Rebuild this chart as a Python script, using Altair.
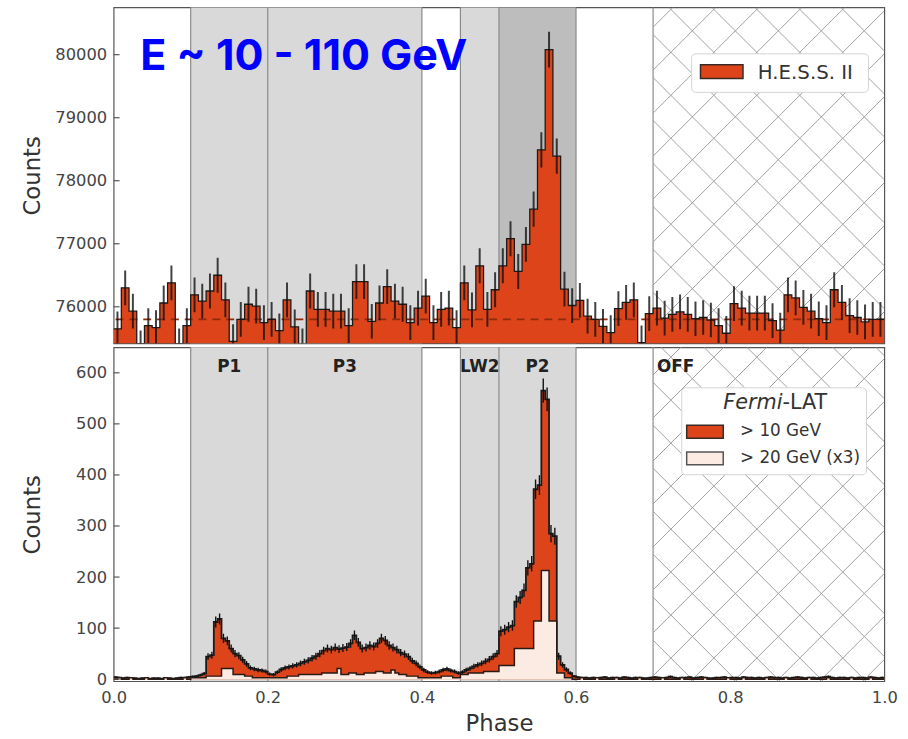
import altair as alt
import numpy as np
import pandas as pd

# ---------------------------------------------------------------------------
# Data
# ---------------------------------------------------------------------------
# H.E.S.S. II phaseogram, 100 bins of width 0.01 in phase
hess_counts = [
    75650, 76300, 75930, 75350, 75700, 75670, 76060, 76380, 75380, 75700,
    76190, 76090, 76250, 76500, 76110, 75450, 75800, 76040, 76010, 75750,
    75800, 75620, 76110, 75680, 75380, 76250, 75960, 75960, 75930, 75930,
    75700, 76400, 76400, 75770, 76060, 76320, 76090, 76040, 75750, 75980,
    76170, 75750, 75960, 75980, 75670, 76380, 75950, 76650, 75960, 76270,
    76650, 77080, 76560, 76990, 77550, 78490, 80080, 78390, 76280, 76020,
    76100, 75850, 75800, 75690, 75590, 75970, 76070, 76110, 75430, 75890,
    75980, 75820, 75880, 75920, 75880, 75810, 75830, 75790, 75700, 75580,
    76050, 75980, 75900, 75900, 75900, 75780, 75630, 76190, 76140, 75990,
    75930, 75810, 75750, 76270, 76070, 75860, 75830, 75760, 75800, 75800,
]
hess_background = 75800

# Fermi-LAT phaseograms, 200 bins of width 0.005 in phase
fermi_10gev = [
    4, 3, 2, 3, 2, 2, 1, 2, 2, 1, 2, 2, 1, 2, 2, 1, 2, 3, 3, 4,
    5, 6, 8, 11, 44, 47, 112, 118, 80, 75, 60, 50, 46, 38, 30, 22, 20, 18, 17, 15,
    10, 9, 14, 19, 22, 24, 26, 28, 31, 34, 37, 41, 45, 50, 56, 60, 58, 62, 59, 61,
    63, 70, 86, 72, 60, 62, 66, 64, 70, 80, 76, 66, 62, 58, 52, 49, 44, 36, 31, 24,
    18, 14, 12, 13, 15, 18, 20, 17, 15, 12, 14, 18, 21, 25, 28, 31, 35, 39, 44, 50,
    94, 97, 102, 105, 152, 160, 174, 218, 226, 372, 380, 565, 548, 285, 280, 45, 28, 19, 12, 6,
    4, 3, 3, 2, 3, 2, 3, 4, 2, 3, 3, 2, 4, 3, 2, 3, 3, 2, 2, 3,
    4, 3, 2, 3, 5, 3, 2, 3, 3, 4, 2, 3, 4, 3, 2, 2, 3, 3, 4, 2,
    3, 3, 2, 4, 3, 3, 2, 3, 2, 3, 4, 3, 3, 2, 3, 2, 3, 4, 3, 2,
    3, 3, 2, 3, 4, 5, 3, 2, 3, 3, 2, 3, 2, 3, 3, 2, 4, 3, 2, 3,
]
fermi_20gev_x3 = [
    0, 3, 0, 0, 3, 0, 0, 0, 3, 0, 0, 0, 0, 3, 0, 0, 0, 0, 3, 0,
    3, 3, 3, 3, 6, 6, 6, 6, 21, 21, 21, 9, 9, 9, 6, 6, 3, 3, 3, 3,
    3, 3, 3, 3, 3, 6, 6, 6, 9, 9, 9, 9, 9, 9, 12, 12, 12, 12, 21, 9,
    9, 12, 12, 9, 9, 12, 12, 12, 15, 15, 12, 12, 18, 12, 9, 9, 6, 6, 6, 3,
    3, 3, 3, 3, 3, 6, 6, 6, 3, 3, 9, 9, 12, 12, 12, 12, 15, 15, 15, 15,
    27, 27, 27, 27, 60, 60, 60, 60, 60, 114, 114, 213, 213, 114, 114, 12, 12, 3, 3, 0,
    0, 3, 0, 0, 0, 3, 0, 0, 0, 0, 3, 0, 0, 0, 0, 0, 3, 0, 0, 0,
    0, 0, 3, 0, 0, 0, 0, 3, 0, 0, 0, 0, 0, 3, 0, 0, 0, 0, 0, 3,
    0, 0, 0, 3, 0, 0, 0, 0, 0, 3, 0, 0, 0, 0, 3, 0, 0, 0, 0, 0,
    3, 0, 0, 0, 0, 3, 0, 0, 0, 0, 0, 3, 0, 0, 0, 0, 3, 0, 0, 0,
]

# Phase regions
shade_lo = [0.10, 0.20, 0.45, 0.50]
shade_hi = [0.20, 0.40, 0.50, 0.60]
shade_tone_top = ["light", "light", "light", "dark"]
region_edges = [0.10, 0.20, 0.40, 0.45, 0.50, 0.60, 0.70]
region_names = ["P1", "P3", "LW2", "P2"]
region_centers = [0.15, 0.30, 0.475, 0.55]
off_lo, off_hi = 0.70, 1.00

hess_ticks = [76000, 77000, 78000, 79000, 80000]
fermi_ticks = [0, 100, 200, 300, 400, 500, 600]
phase_ticks = [0.0, 0.2, 0.4, 0.6, 0.8, 1.0]

# ---------------------------------------------------------------------------
# Style
# ---------------------------------------------------------------------------
W, H_TOP, H_BOT = 780, 340, 338
Y_TOP = [75420, 80750]
Y_BOT = [-4, 650]
RED = "#de4419"
PALE = "#fcebe3"
LIGHT = "#d9d9d9"
DARK = "#bdbdbd"
EDGE = "#8a8a8a"
HATCH = "#a0a0a0"
INK = "#1a1a1a"
FONT = "DejaVu Sans"

xs = alt.Scale(domain=[0, 1], nice=False, zero=False)
ys_top = alt.Scale(domain=Y_TOP, nice=False, zero=False)
ys_bot = alt.Scale(domain=Y_BOT, nice=False, zero=False)

x_axis_bot = alt.Axis(values=phase_ticks, format=".1f", title="Phase", ticks=False,
                      labelFlush=False, labelPadding=9, titlePadding=6,
                      grid=False, domain=False)
y_axis_top = alt.Axis(values=hess_ticks, format="d", title="Counts", ticks=False,
                      labelPadding=7, grid=False, domain=False,
                      titleX=-82, titleBaseline="middle")
y_axis_bot = alt.Axis(values=fermi_ticks, format="d", title="Counts", ticks=False,
                      labelPadding=7, grid=False, domain=False,
                      titleX=-82, titleBaseline="middle")


def X(field, bottom):
    return alt.X(field, type="quantitative", scale=xs,
                 axis=x_axis_bot if bottom else None)


def Y(field, bottom):
    return alt.Y(field, type="quantitative",
                 scale=ys_bot if bottom else ys_top,
                 axis=y_axis_bot if bottom else y_axis_top)


def step_table(values, width):
    edges = [round(i * width, 4) for i in range(len(values) + 1)]
    return pd.DataFrame({"x": edges, "y": list(values) + [values[-1]]})


def hatch_table(y_dom, height, y_offset, step=43.5, ref=(564.0, 2.0)):
    """Cross-hatch segments for the OFF region, in data units."""
    x0, x1 = off_lo * W, off_hi * W
    y0, y1 = y_offset, y_offset + height
    segs = []
    ca0, cb0 = ref[0] - ref[1], ref[0] + ref[1]
    for k in range(-40, 40):
        c = ca0 + k * step
        lo, hi = max(x0, y0 + c), min(x1, y1 + c)
        if hi > lo:
            segs.append((lo, lo - c, hi, hi - c))
        c = cb0 + k * step
        lo, hi = max(x0, c - y1), min(x1, c - y0)
        if hi > lo:
            segs.append((lo, c - lo, hi, c - hi))
    span = y_dom[1] - y_dom[0]
    rows = []
    for xa, ya, xb, yb in segs:
        rows.append({
            "xa": xa / W, "xb": xb / W,
            "ya": y_dom[1] - (ya - y_offset) / height * span,
            "yb": y_dom[1] - (yb - y_offset) / height * span,
        })
    return pd.DataFrame(rows)


one = pd.DataFrame({"k": [0]})

# ---------------------------------------------------------------------------
# Shared background pieces
# ---------------------------------------------------------------------------
def background(bottom, height, tones):
    shade = alt.Chart(pd.DataFrame({"lo": shade_lo, "hi": shade_hi, "tone": tones})).mark_rect().encode(
        x=X("lo", bottom), x2="hi",
        y=alt.value(0), y2=alt.value(height),
        color=alt.Color("tone:N", scale=alt.Scale(domain=["light", "dark"], range=[LIGHT, DARK]),
                        legend=None),
    )
    edges = alt.Chart(pd.DataFrame({"e": region_edges})).mark_rule(
        color=EDGE, strokeWidth=1.2).encode(x=X("e", bottom), y=alt.value(0), y2=alt.value(height))
    hatch_df = hatch_table(Y_BOT if bottom else Y_TOP, height, H_TOP if bottom else 0)
    hatch = alt.Chart(hatch_df).mark_rule(color=HATCH, strokeWidth=1, clip=True).encode(
        x=X("xa", bottom), x2="xb", y=Y("ya", bottom), y2="yb")
    return [shade, edges, hatch]


def inward_ticks(values, bottom):
    return alt.Chart(pd.DataFrame({"t": values})).mark_rule(color="#555", strokeWidth=1.2).encode(
        y=Y("t", bottom), x=alt.value(0), x2=alt.value(6))


# ---------------------------------------------------------------------------
# Top panel: H.E.S.S. II
# ---------------------------------------------------------------------------
hess_step = step_table(hess_counts, 0.01)
hess_bins = pd.DataFrame({
    "mid": [round(0.005 + 0.01 * i, 4) for i in range(len(hess_counts))],
    "c": hess_counts,
})
hess_bins["lo"] = hess_bins["c"] - np.sqrt(hess_bins["c"])
hess_bins["hi"] = hess_bins["c"] + np.sqrt(hess_bins["c"])

hess_fill = alt.Chart(hess_step).mark_area(interpolate="step-after", color=RED, clip=True).encode(
    x=X("x", False), y=Y("y", False), y2=alt.value(H_TOP))
hess_bg = alt.Chart(pd.DataFrame({"b": [hess_background]})).mark_rule(
    color="#8e2a0e", strokeWidth=1.8, strokeDash=[8, 6]).encode(y=Y("b", False))
hess_line = alt.Chart(hess_step).mark_line(interpolate="step-after", color=INK, strokeWidth=1.3,
                                           clip=True).encode(x=X("x", False), y=Y("y", False))
hess_err = alt.Chart(hess_bins).mark_rule(color="#111", strokeWidth=2, opacity=0.8, clip=True).encode(
    x=X("mid", False), y=Y("lo", False), y2="hi")

top_legend = [
    alt.Chart(one).mark_rect(fill="white", stroke="#d4d4d4", strokeWidth=1, cornerRadius=4).encode(
        x=alt.value(585), x2=alt.value(764), y=alt.value(47), y2=alt.value(86)),
    alt.Chart(one).mark_rect(fill=RED, stroke="#3a2a25", strokeWidth=1.5).encode(
        x=alt.value(594), x2=alt.value(637), y=alt.value(58), y2=alt.value(72)),
    alt.Chart(one).mark_text(align="left", baseline="middle", font=FONT, fontSize=20,
                             color="#333").encode(
        x=alt.value(652), y=alt.value(66), text=alt.value("H.E.S.S. II")),
]
energy_label = alt.Chart(one).mark_text(align="left", baseline="alphabetic", font="Inter",
                                        fontWeight="bold", fontSize=43.5, color="#0000ff").encode(
    x=alt.value(27), y=alt.value(63), text=alt.value("E ~ 10 - 110 GeV"))

top = alt.layer(
    *background(False, H_TOP, shade_tone_top),
    hess_fill, hess_bg, hess_line, hess_err,
    inward_ticks(hess_ticks, False),
    *top_legend, energy_label,
).properties(width=W, height=H_TOP)

# ---------------------------------------------------------------------------
# Bottom panel: Fermi-LAT
# ---------------------------------------------------------------------------
f10_step = step_table(fermi_10gev, 0.005)
f20_step = step_table(fermi_20gev_x3, 0.005)
f10_bins = pd.DataFrame({
    "mid": [round(0.0025 + 0.005 * i, 4) for i in range(len(fermi_10gev))],
    "c": fermi_10gev,
})
f10_bins["lo"] = f10_bins["c"] - np.sqrt(f10_bins["c"])
f10_bins["hi"] = f10_bins["c"] + np.sqrt(f10_bins["c"])

f10_fill = alt.Chart(f10_step).mark_area(interpolate="step-after", color=RED, clip=True).encode(
    x=X("x", True), y=Y("y", True), y2=alt.datum(0))
f10_line = alt.Chart(f10_step).mark_line(interpolate="step-after", color=INK, strokeWidth=1.8,
                                         clip=True).encode(x=X("x", True), y=Y("y", True))
f10_err = alt.Chart(f10_bins).mark_rule(color="#111", strokeWidth=1.4, clip=True).encode(
    x=X("mid", True), y=Y("lo", True), y2="hi")
f20_fill = alt.Chart(f20_step).mark_area(interpolate="step-after", color=PALE, clip=True).encode(
    x=X("x", True), y=Y("y", True), y2=alt.datum(0))
f20_line = alt.Chart(f20_step).mark_line(interpolate="step-after", color="#2a1a14", strokeWidth=1.5,
                                         clip=True).encode(x=X("x", True), y=Y("y", True))

labels = alt.Chart(pd.DataFrame({"x": region_centers, "name": region_names})).mark_text(
    font=FONT, fontWeight="bold", fontSize=17, color="#222", baseline="middle").encode(
    x=X("x", True), y=alt.value(20), text="name:N")
off_label = alt.Chart(pd.DataFrame({"x": [off_lo + 0.005], "name": ["OFF"]})).mark_text(
    font=FONT, fontWeight="bold", fontSize=17, color="#222", baseline="middle", align="left").encode(
    x=X("x", True), y=alt.value(20), text="name:N")

bot_legend = [
    alt.Chart(one).mark_rect(fill="white", stroke="#d4d4d4", strokeWidth=1, cornerRadius=4).encode(
        x=alt.value(575), x2=alt.value(762), y=alt.value(41), y2=alt.value(129)),
    alt.Chart(one).mark_text(align="right", baseline="middle", font=FONT, fontStyle="italic",
                             fontSize=21, color="#333").encode(
        x=alt.value(677), y=alt.value(56), text=alt.value("Fermi")),
    alt.Chart(one).mark_text(align="left", baseline="middle", font=FONT, fontSize=21,
                             color="#333").encode(
        x=alt.value(677), y=alt.value(56), text=alt.value("-LAT")),
    alt.Chart(one).mark_rect(fill=RED, stroke="#3a2a25", strokeWidth=1.5).encode(
        x=alt.value(580), x2=alt.value(617), y=alt.value(79), y2=alt.value(92)),
    alt.Chart(one).mark_rect(fill=PALE, stroke="#555", strokeWidth=1.5).encode(
        x=alt.value(580), x2=alt.value(617), y=alt.value(106), y2=alt.value(119)),
    alt.Chart(one).mark_text(align="left", baseline="middle", font=FONT, fontSize=17,
                             color="#333").encode(
        x=alt.value(634), y=alt.value(85), text=alt.value("> 10 GeV")),
    alt.Chart(one).mark_text(align="left", baseline="middle", font=FONT, fontSize=17,
                             color="#333").encode(
        x=alt.value(634), y=alt.value(112), text=alt.value("> 20 GeV (x3)")),
]

bottom = alt.layer(
    *background(True, H_BOT, ["light"] * 4),
    f10_fill, f10_line, f10_err, f20_fill, f20_line,
    inward_ticks(fermi_ticks, True),
    labels, off_label, *bot_legend,
).properties(width=W, height=H_BOT)

chart = (
    alt.vconcat(top, bottom, spacing=0)
    .properties(padding={"left": 21, "top": 1, "right": 10, "bottom": 0}, background="white")
    .configure_view(stroke="#555", strokeWidth=1.2)
    .configure_axis(labelFont=FONT, titleFont=FONT, labelFontSize=16.5, titleFontSize=23,
                    labelColor="#444", titleColor="#333", titleFontWeight="normal")
)

chart.save("out.html", embed_options={"renderer": "svg", "actions": False})
